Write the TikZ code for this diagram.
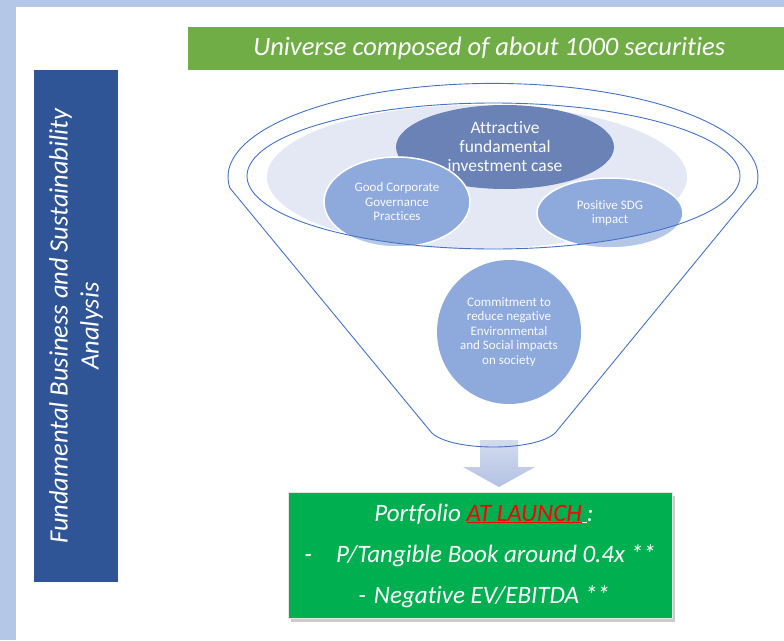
\documentclass[tikz,border=0pt]{standalone}
\usepackage{fontspec}
\setmainfont[Ligatures=NoCommon]{Carlito}
\usetikzlibrary{shapes.geometric,shadows}

\definecolor{frameblue}{HTML}{B4C7E7}
\definecolor{bargreen}{HTML}{70AD47}
\definecolor{boxblue}{HTML}{2F5597}
\definecolor{boxgreen}{HTML}{00B050}
\definecolor{rimblue}{HTML}{4472C4}
\definecolor{paleblue}{HTML}{E3E8F4}
\definecolor{darkblue}{HTML}{6A82B5}
\definecolor{midblue}{HTML}{8EA9DB}
\definecolor{arrowblue}{HTML}{B4C2E3}

\begin{document}
\begin{tikzpicture}[x=1pt, y=-1pt,
  bubble/.style={ellipse, fill=midblue, draw=white, line width=1.5pt, inner sep=0pt,
    text=white!96!gray, align=center, font=\fontsize{13}{14.5}\selectfont},
  rim/.style={draw=rimblue, line width=0.9pt}]
  \useasboundingbox (0,0) rectangle (784,640);
  \fill[frameblue] (0,0) rectangle (784,7);
  \fill[frameblue] (0,0) rectangle (16,640);

  % banner and side label
  \node[fill=bargreen, anchor=north west, minimum width=596pt, minimum height=43pt, inner sep=0pt,
    text=white, font=\fontsize{26.5}{30}\selectfont\itshape] (universe) at (188,27)
    {\hspace*{6pt}Universe composed of about 1000 securities};
  \node[fill=boxblue, rotate=90, minimum width=512pt, minimum height=84pt, inner sep=0pt,
    text=white, align=center, font=\fontsize{26.5}{31}\selectfont\itshape] (analysis) at (76,326)
    {Fundamental Business and Sustainability\\Analysis};

  % funnel top
  \fill[paleblue] (477,177) ellipse [x radius=210, y radius=72];
  \node[bubble, draw=none, fill=darkblue, minimum width=218pt, minimum height=84pt,
    font=\fontsize{17.5}{19}\selectfont] (invest) at (505,147) {Attractive\\fundamental\\investment case};
  \node[bubble, minimum width=146pt, minimum height=90pt] (governance) at (397,202)
    {Good Corporate\\Governance\\Practices};
  \node[bubble, minimum width=146pt, minimum height=70pt] (sdg) at (610,213) {Positive SDG\\impact};

  % funnel body
  \fill[white, opacity=0.35, even odd rule] (493,177) ++(173.3:265 and 93.6)
    arc[start angle=173.3, end angle=366.7, x radius=265, y radius=93.6]
    -- (556,432) .. controls (538,452) and (449,452) .. (431,432) -- cycle
    (493.5,176) ellipse [x radius=246.5, y radius=73];
  \shade[top color=arrowblue!60, bottom color=arrowblue]
    (480,440) -- (518,440) -- (518,467) -- (535,467) -- (499,487) -- (463,467) -- (480,467) -- cycle;
  \draw[rim] (493.5,176) ellipse [x radius=246.5, y radius=73];
  \draw[rim] (493,177) ++(173.3:265 and 93.6)
    arc[start angle=173.3, end angle=366.7, x radius=265, y radius=93.6]
    -- (556,432) .. controls (538,452) and (449,452) .. (431,432) -- cycle;
  \node[bubble, circle, draw=none, minimum size=144pt] (commitment) at (509,332)
    {Commitment to\\reduce negative\\Environmental\\and Social impacts\\on society};

  % result
  \node[fill=boxgreen, draw=white!80!gray, line width=0.8pt, minimum width=384pt, minimum height=126pt,
    drop shadow={shadow xshift=3pt, shadow yshift=-3pt, opacity=0.4},
    text=white, align=center, font=\fontsize{25}{41}\selectfont\itshape] (launch) at (480,555.5)
    {\hspace*{8pt}Portfolio {\color{red}\underline{AT LAUNCH}}\underline{\makebox[5pt]{}}:\\
     -\hspace{24pt}P/Tangible Book around 0.4x **\\
     \hspace*{8pt}-\hspace{8pt}Negative EV/EBITDA **};
\end{tikzpicture}
\end{document}
